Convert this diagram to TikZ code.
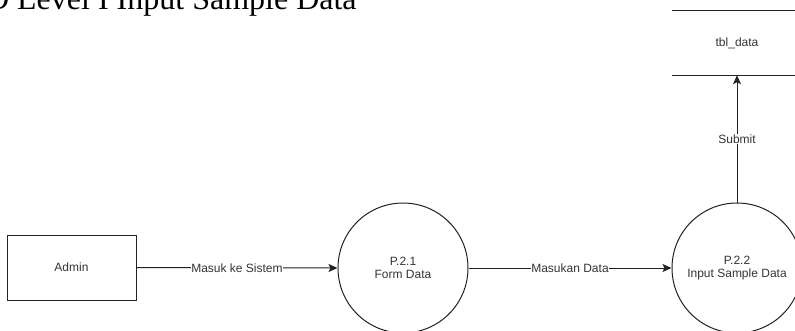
\documentclass[tikz,border=0pt]{standalone}
\usepackage{fontspec}
\setmainfont{Liberation Sans}
\newfontfamily\titlefont{Liberation Serif}
\usetikzlibrary{arrows.meta}
\definecolor{txt}{HTML}{333333}
\definecolor{ln}{HTML}{222222}
\begin{document}
\begin{tikzpicture}[x=1pt,y=1pt,
  every node/.style={font=\fontsize{12}{13.5}\selectfont, text=txt},
  proc/.style={circle, draw=ln, line width=1pt, minimum size=130pt, inner sep=0pt, align=center},
  entity/.style={rectangle, draw=ln, line width=1pt, minimum width=129pt, minimum height=65pt},
  store/.style={rectangle, minimum width=130pt, minimum height=64pt},
  flow/.style={draw=ln, line width=1pt, -{Stealth[length=9pt,width=8pt,inset=2pt]}},
  lbl/.style={fill=white, inner sep=0.5pt}]
\useasboundingbox (0,0) rectangle (795,-330);
\clip (0,0) rectangle (795,-330);
\node[anchor=base west, inner sep=0pt, font=\titlefont\fontsize{32}{38}\selectfont, text=black] (title) at (17,-9) {\llap{DFD }Level I Input Sample Data};
\node[entity] (admin) at (71.5,-267.5) {Admin};
\node[proc] (p1) at (403,-268) {P.2.1\\Form Data};
\node[proc] (p2) at (737,-268) {P.2.2\\Input Sample Data};
\node[store] (db) at (737,-43) {tbl\_data};
\draw[ln, line width=1pt] (db.north west) -- (db.north east);
\draw[ln, line width=1pt] (db.south west) -- (db.south east);
\draw[flow] (admin.east) -- node[lbl] {Masuk ke Sistem} (p1.west);
\draw[flow] (p1.east) -- node[lbl] {Masukan Data} (p2.west);
\draw[flow] (p2.north) -- node[lbl] {Submit} (db.south);
\end{tikzpicture}
\end{document}
